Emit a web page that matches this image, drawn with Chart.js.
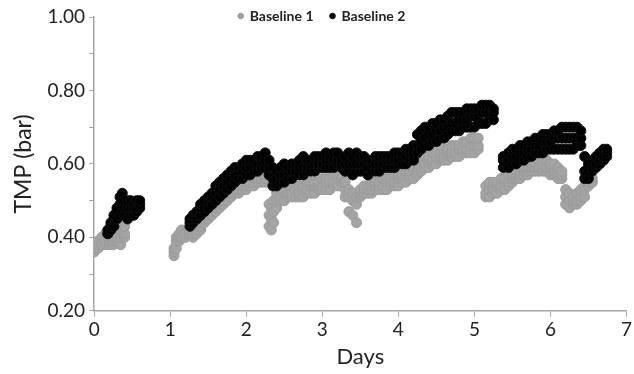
<!DOCTYPE html>
<html>
<head>
<meta charset="utf-8">
<script src="https://cdn.jsdelivr.net/npm/chart.js@4/dist/chart.umd.min.js"></script>
<style>
  html, body { margin: 0; padding: 0; background: #fff; }
  #wrap { width: 634px; height: 374px; }
</style>
</head>
<body>
<div id="wrap"><canvas id="chart"></canvas></div>
<script>
// Baseline 1 (grey): day, lower / middle / upper points of the cloud
const b1Days = [0.00,0.05,0.10,0.15,0.20,0.25,0.30,0.35,0.40,
  1.05,1.08,1.12,1.15,1.20,1.25,1.30,1.35,1.40,1.45,1.50,1.55,1.60,1.65,1.70,1.75,1.80,1.85,1.90,1.95,2.00,2.05,2.10,2.15,2.20,2.25,
  2.30,2.33,2.36,2.40,2.45,2.50,2.55,2.60,2.65,2.70,2.75,2.80,2.85,2.90,2.95,3.00,3.05,3.10,3.15,3.20,3.25,
  3.30,3.35,3.40,3.45,3.50,3.55,3.60,3.65,3.70,3.75,3.80,3.85,3.90,3.95,4.00,4.05,4.10,4.15,4.20,4.25,4.30,4.35,4.40,4.45,4.50,4.55,4.60,4.65,4.70,4.75,4.80,4.85,4.90,4.95,5.00,5.05,
  5.15,5.20,5.25,5.30,5.35,5.40,5.45,5.50,5.55,5.60,5.65,5.70,5.75,5.80,5.85,5.90,5.95,6.00,6.05,6.10,6.15,6.20,6.25,6.30,6.35,6.40,6.45,6.50,6.55];
const b1Low = [.36,.37,.38,.38,.38,.38,.39,.38,.40,
  .35,.37,.39,.40,.40,.41,.40,.41,.42,.44,.45,.46,.47,.48,.49,.50,.51,.52,.52,.53,.53,.54,.54,.55,.55,.55,
  .43,.42,.44,.48,.50,.50,.51,.51,.51,.51,.51,.52,.52,.52,.53,.53,.53,.53,.54,.54,.55,
  .51,.47,.46,.44,.51,.52,.52,.52,.53,.53,.53,.53,.54,.54,.54,.55,.55,.56,.56,.57,.58,.59,.59,.60,.60,.61,.61,.61,.62,.62,.62,.63,.63,.63,.63,.64,
  .51,.51,.52,.52,.53,.53,.54,.55,.56,.56,.57,.57,.58,.58,.58,.58,.58,.57,.57,.56,.56,.49,.48,.49,.49,.50,.51,.54,.55];
const b1Mid = [.37,.38,.38,.39,.39,.39,.40,.40,.41,
  .36,.39,.40,.40,.41,.41,.41,.42,.43,.45,.46,.47,.48,.49,.50,.51,.52,.53,.53,.54,.54,.55,.55,.55,.56,.56,
  .46,.45,.47,.50,.51,.52,.52,.52,.53,.52,.53,.53,.54,.54,.54,.54,.55,.55,.55,.56,.56,
  .53,.51,.50,.49,.52,.53,.53,.53,.54,.54,.54,.55,.55,.55,.56,.56,.57,.57,.58,.58,.59,.60,.61,.61,.62,.62,.62,.63,.63,.63,.64,.64,.64,.65,.65,.65,
  .52,.53,.53,.54,.54,.55,.55,.56,.57,.57,.58,.58,.59,.59,.59,.60,.59,.59,.58,.57,.57,.51,.50,.50,.50,.51,.53,.55,.55];
const b1High = [.38,.39,.40,.41,.40,.40,.41,.42,.43,
  .37,.40,.41,.42,.41,.42,.42,.43,.44,.46,.47,.48,.49,.50,.51,.52,.53,.53,.54,.54,.55,.55,.56,.56,.56,.57,
  .49,.48,.50,.52,.53,.53,.54,.54,.54,.54,.54,.55,.55,.55,.55,.56,.56,.56,.57,.57,.57,
  .55,.53,.52,.51,.53,.54,.54,.55,.55,.55,.56,.56,.56,.57,.57,.57,.58,.58,.59,.60,.61,.62,.62,.63,.63,.63,.64,.64,.65,.65,.65,.66,.66,.67,.67,.67,
  .54,.55,.55,.55,.56,.56,.57,.57,.58,.58,.59,.59,.60,.60,.61,.61,.61,.60,.60,.59,.58,.53,.52,.51,.52,.53,.54,.55,.56];

// Baseline 2 (black)
const b2Days = [0.18,0.22,0.26,0.30,0.34,0.37,0.40,0.44,0.48,0.52,0.56,0.60,
  1.26,1.30,1.35,1.40,1.45,1.50,1.55,1.60,1.65,1.70,1.75,1.80,1.85,1.90,1.95,2.00,2.05,2.10,2.15,2.20,2.25,
  2.30,2.35,2.40,2.45,2.50,2.55,2.60,2.65,2.70,2.75,2.80,2.85,2.90,2.95,3.00,3.05,3.10,3.15,3.20,3.25,
  3.30,3.35,3.40,3.45,3.50,3.55,3.60,3.65,3.70,3.75,3.80,3.85,3.90,3.95,4.00,4.05,4.10,4.15,4.20,
  4.25,4.30,4.35,4.40,4.45,4.50,4.55,4.60,4.65,4.70,4.75,4.80,4.85,4.90,4.95,5.00,5.05,5.10,5.15,5.20,5.25,
  5.38,5.45,5.50,5.55,5.60,5.65,5.70,5.75,5.80,5.85,5.90,5.95,6.00,6.05,6.10,6.15,6.20,6.25,6.30,6.35,6.40,
  6.45,6.50,6.55,6.60,6.65,6.70,6.74];
const b2Low = [.41,.42,.43,.45,.46,.47,.46,.45,.46,.46,.47,.48,
  .43,.44,.45,.46,.47,.48,.49,.50,.51,.52,.53,.54,.55,.56,.56,.57,.57,.58,.58,.59,.59,
  .57,.54,.54,.55,.55,.56,.56,.57,.57,.57,.58,.58,.58,.59,.59,.59,.59,.59,.60,.59,
  .58,.58,.57,.58,.58,.58,.57,.58,.58,.58,.59,.59,.59,.59,.60,.60,.60,.61,.61,
  .63,.64,.65,.65,.66,.66,.67,.67,.68,.69,.69,.69,.70,.70,.70,.70,.71,.71,.71,.72,.72,
  .59,.59,.60,.60,.61,.61,.62,.62,.63,.63,.63,.64,.64,.64,.64,.64,.64,.64,.64,.65,.65,
  .56,.56,.58,.59,.60,.61,.62];
const b2Mid = [.41,.43,.45,.47,.49,.50,.48,.48,.48,.48,.48,.49,
  .44,.45,.46,.48,.48,.50,.51,.52,.53,.54,.55,.56,.57,.58,.58,.59,.59,.60,.60,.61,.61,
  .59,.56,.56,.57,.57,.58,.58,.58,.59,.59,.59,.60,.60,.60,.60,.61,.61,.61,.61,.60,
  .60,.60,.60,.60,.60,.60,.59,.60,.60,.60,.60,.61,.61,.61,.61,.62,.62,.63,.63,
  .65,.66,.67,.68,.68,.69,.69,.70,.70,.71,.71,.72,.72,.72,.73,.73,.73,.74,.74,.74,.74,
  .61,.61,.62,.62,.63,.63,.64,.64,.65,.65,.66,.66,.66,.67,.67,.67,.67,.67,.67,.67,.67,
  .58,.58,.59,.60,.61,.62,.63];
const b2High = [.42,.44,.46,.48,.51,.52,.50,.50,.50,.49,.50,.50,
  .45,.46,.47,.49,.50,.51,.52,.54,.55,.56,.57,.58,.59,.59,.60,.61,.61,.61,.62,.62,.63,
  .61,.59,.58,.59,.60,.59,.60,.60,.61,.62,.61,.61,.62,.62,.62,.63,.62,.63,.63,.61,
  .62,.63,.62,.63,.62,.62,.61,.61,.62,.62,.62,.62,.62,.63,.63,.63,.64,.64,.65,
  .68,.69,.70,.70,.71,.71,.72,.72,.73,.74,.74,.74,.74,.75,.75,.75,.75,.76,.76,.76,.75,
  .62,.63,.64,.64,.65,.65,.66,.66,.67,.67,.68,.68,.68,.69,.69,.70,.70,.70,.70,.70,.69,
  .62,.60,.61,.62,.63,.64,.64];

const yTicks = [0.2, 0.4, 0.6, 0.8, 1.0];

function cloud(days, low, mid, high) {
  const pts = [];
  for (let i = 0; i < days.length; i++) {
    pts.push({x: days[i], y: low[i]});
    pts.push({x: days[i], y: mid[i]});
    pts.push({x: days[i], y: high[i]});
  }
  return pts;
}

const font = "Lato, 'Open Sans', sans-serif";

// legend sits right on top of the plot: reserve less room and don't clip it
const legendSqueeze = {
  id: 'legendSqueeze',
  beforeInit(chart) {
    const lg = chart.legend;
    const fit = lg.fit;
    lg.fit = function () {
      fit.call(lg);
      lg.height = 25;
    };
    lg.draw = function () {
      lg._draw();
    };
  }
};

new Chart(document.getElementById('chart'), {
  type: 'scatter',
  data: {
    datasets: [
      {
        label: 'Baseline 1',
        data: cloud(b1Days, b1Low, b1Mid, b1High),
        backgroundColor: '#a4a4a4',
        borderColor: '#9a9a9a',
        borderWidth: 1,
        pointRadius: 5,
        order: 2
      },
      {
        label: 'Baseline 2',
        data: cloud(b2Days, b2Low, b2Mid, b2High),
        backgroundColor: '#000000',
        borderColor: '#111111',
        borderWidth: 1,
        pointRadius: 5,
        order: 1
      }
    ]
  },
  options: {
    responsive: true,
    maintainAspectRatio: false,
    animation: false,
    layout: { padding: { top: -8, right: 0, bottom: 4, left: 10 } },
    plugins: {
      tooltip: { enabled: false },
      legend: {
        position: 'top',
        labels: {
          usePointStyle: true,
          pointStyle: 'circle',
          boxWidth: 4,
          boxHeight: 4,
          padding: 17,
          color: '#222',
          font: { family: font, size: 14, weight: 'bold' },
          sort: (a, b) => a.datasetIndex - b.datasetIndex
        }
      }
    },
    scales: {
      x: {
        type: 'linear',
        min: 0,
        max: 7,
        ticks: { stepSize: 1, color: '#222', font: { family: font, size: 19 }, padding: 2 },
        grid: { drawOnChartArea: false, drawTicks: true, tickLength: 6, color: '#a6a6a6' },
        border: { color: '#a6a6a6', width: 1.5 },
        title: { display: true, text: 'Days', color: '#222', font: { family: font, size: 22 }, padding: { top: 0, bottom: 0 } }
      },
      y: {
        min: 0.2,
        max: 1.0,
        ticks: {
          stepSize: 0.1,
          color: '#222',
          font: { family: font, size: 19 },
          padding: 4,
          callback: (v) => yTicks.some(t => Math.abs(t - v) < 1e-6) ? v.toFixed(2) : ''
        },
        grid: { drawOnChartArea: false, drawTicks: true, tickLength: 5, color: '#a6a6a6' },
        border: { color: '#a6a6a6', width: 1.5 },
        title: { display: true, text: 'TMP (bar)', color: '#222', font: { family: font, size: 23 }, padding: { top: 0, bottom: 6 } }
      }
    }
  },
  plugins: [legendSqueeze]
});
</script>
</body>
</html>
